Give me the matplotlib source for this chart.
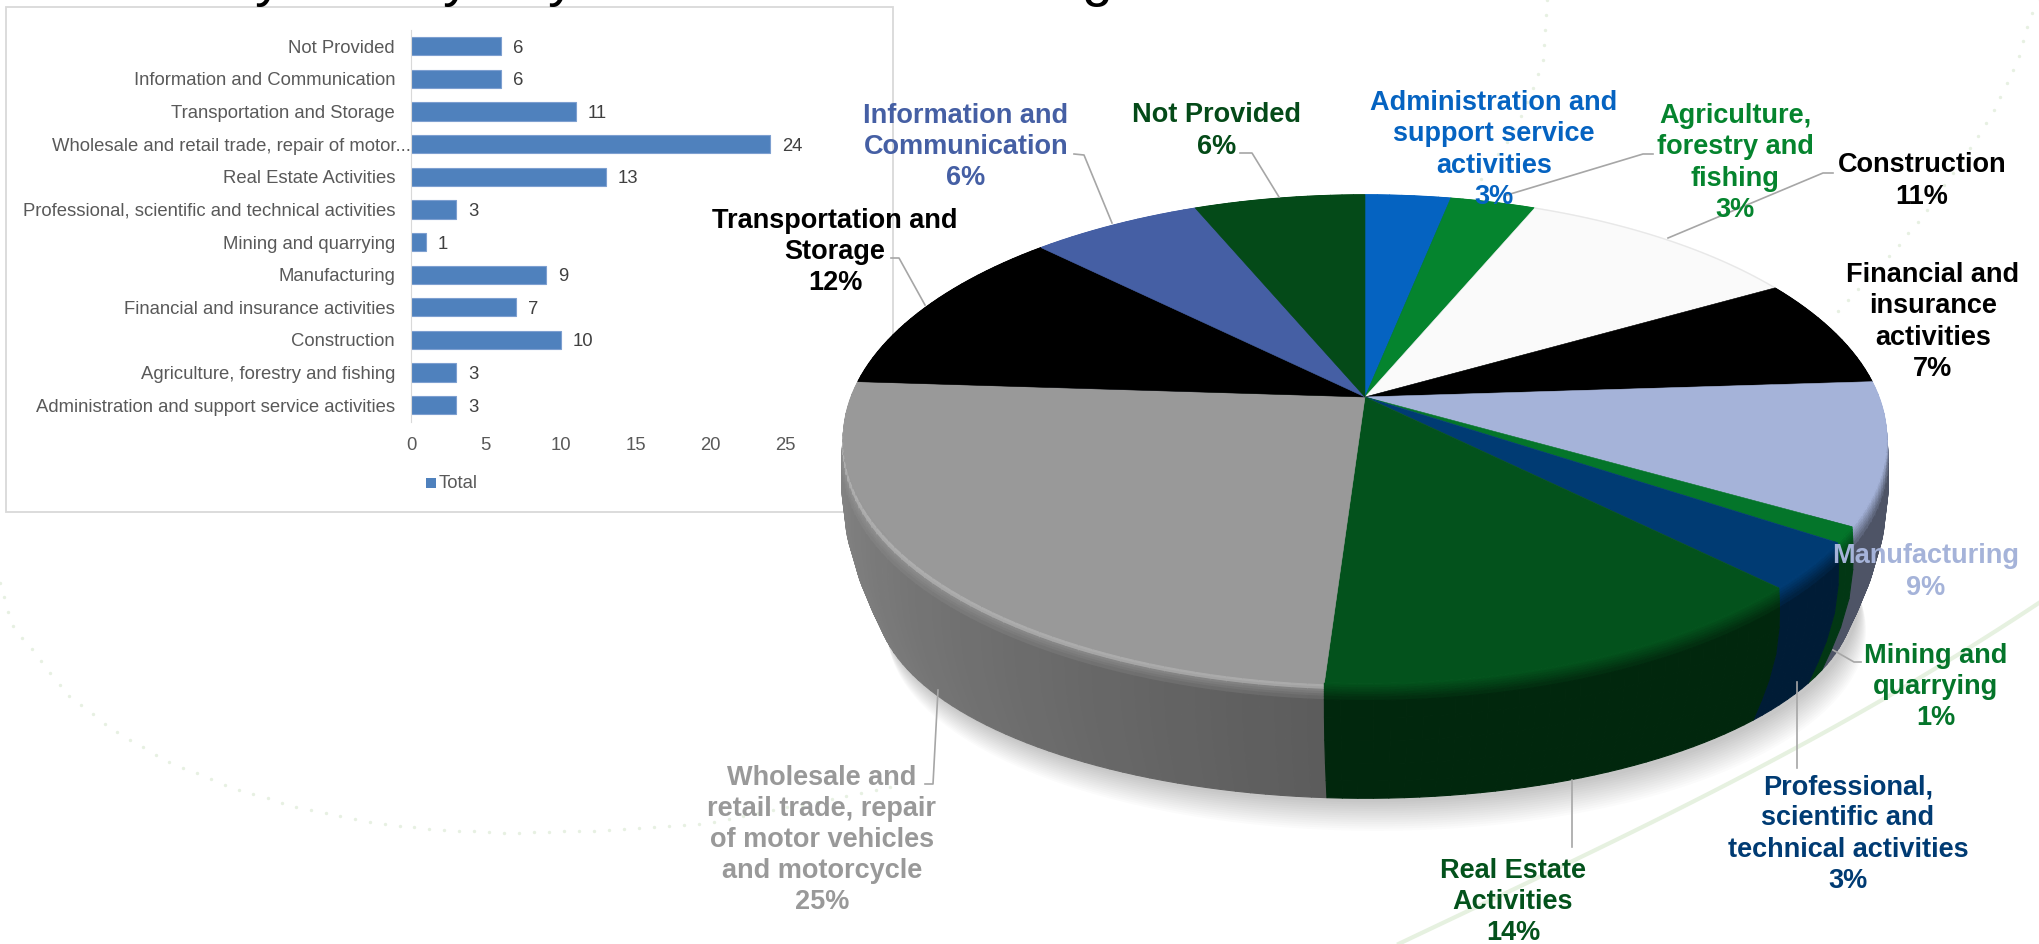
import numpy as np
import matplotlib
matplotlib.use("Agg")
import matplotlib.pyplot as plt
from matplotlib.collections import PolyCollection
from matplotlib.patches import Polygon, Rectangle

plt.rcParams['font.family'] = ['Liberation Sans', 'DejaVu Sans']

# ==========================
# Data
# ==========================
categories = [
    "Administration and support service activities",
    "Agriculture, forestry and fishing",
    "Construction",
    "Financial and insurance activities",
    "Manufacturing",
    "Mining and quarrying",
    "Professional, scientific and technical activities",
    "Real Estate Activities",
    "Wholesale and retail trade, repair of motor...",
    "Transportation and Storage",
    "Information and Communication",
    "Not Provided",
]
values = [3, 3, 10, 7, 9, 1, 3, 13, 24, 11, 6, 6]
pie_labels = [
    "Administration and\nsupport service\nactivities\n3%",
    "Agriculture,\nforestry and\nfishing\n3%",
    "Construction\n11%",
    "Financial and\ninsurance\nactivities\n7%",
    "Manufacturing\n9%",
    "Mining and\nquarrying\n1%",
    "Professional,\nscientific and\ntechnical activities\n3%",
    "Real Estate\nActivities\n14%",
    "Wholesale and\nretail trade, repair\nof motor vehicles\nand motorcycle\n25%",
    "Transportation and\nStorage\n12%",
    "Information and\nCommunication\n6%",
    "Not Provided\n6%",
]
slice_colors = ["#0563c1", "#05842e", "#fafafa", "#000000", "#a5b3d9", "#04752a",
                "#003b73", "#03521c", "#999999", "#000000", "#455fa4", "#044a18"]
label_colors = ["#0563c1", "#05842e", "#000000", "#000000", "#a5b3d9", "#04752a",
                "#003b73", "#03521c", "#999999", "#000000", "#455fa4", "#044a18"]

# ==========================
# Layout (pixels)
# ==========================
label_xy = [(1494, 150), (1735, 163), (1922, 181), (1933, 322), (1926, 572), (1936, 687),
            (1848, 834), (1513, 902), (822, 840), (835, 252), (966, 147), (1217, 131)]
leaders = [
    None,
    [(1507, 195), (1643, 154), (1653, 154)],
    [(1668, 238), (1823, 173), (1833, 173)],
    None,
    None,
    [(1833, 650), (1854, 662), (1861, 662)],
    [(1797, 682), (1797, 768)],
    [(1572, 780), (1572, 847)],
    [(938, 690), (933, 784), (925, 784)],
    [(925, 305), (899, 258), (891, 258)],
    [(1112, 223), (1084, 155), (1074, 154)],
    [(1279, 197), (1252, 153), (1240, 153)],
]
dots_left = [(0, 583), (12, 625), (34, 652), (68, 695), (109, 727), (165, 760), (230, 787),
             (300, 808), (367, 822), (440, 830), (517, 833), (610, 830), (706, 823),
             (800, 805), (900, 785)]
dots_mid = [(1547, 0), (1545, 30), (1543, 60), (1538, 75), (1520, 118), (1505, 145),
            (1480, 180)]
dots_right = [(2040, 0), (2031, 15), (2018, 59), (1992, 114), (1976, 140), (1923, 215),
              (1895, 249), (1853, 295), (1830, 320)]
curve_xy = [(1399, 944), (1416, 935), (1584, 857), (1768, 760), (1891, 697), (2038, 603)]
title_glyphs = [("y", 269), ("y", 457), ("y", 562), ("g", 1097)]

fig = plt.figure(figsize=(20.4, 9.44), dpi=100, facecolor="white")

# ==========================
# Background
# ==========================
bg = fig.add_axes([0, 0, 1, 1], zorder=0)
bg.set_xlim(0, 2040)
bg.set_ylim(944, 0)
bg.axis("off")


def dots_along(points, step=15):
    pts = np.array(points, dtype=float)
    dist = np.r_[0, np.cumsum(np.hypot(*np.diff(pts, axis=0).T))]
    s = np.arange(0, dist[-1], step)
    return np.interp(s, dist, pts[:, 0]), np.interp(s, dist, pts[:, 1])


for line in [dots_left, dots_mid, dots_right]:
    xs, ys = dots_along(line)
    bg.scatter(xs, ys, s=6, color="#e7f0e2", linewidths=0)

cx_pts, cy_pts = np.array(curve_xy).T
cfit = np.polyfit(cx_pts, cy_pts, 3)
cxs = np.linspace(1399, 2040, 100)
bg.plot(cxs, np.polyval(cfit, cxs), color="#e6f1e0", lw=3)

for ch, x in title_glyphs:
    bg.text(x, -5, ch, fontsize=40, color="black", ha="center", va="baseline")

bg.add_patch(Rectangle((6.5, 7), 886.5, 505, facecolor="white", edgecolor="#d9d9d9", lw=1.3))

# ==========================
# Bar chart
# ==========================
ax = fig.add_axes([411 / 2040, 1 - 421.5 / 944, 449 / 2040, 391.5 / 944], zorder=1)
ax.patch.set_alpha(0)
y_pos = np.arange(len(categories))
ax.barh(y_pos, values, height=0.56, color="#4f81bd", edgecolor="#7d9fd0", linewidth=0.8,
        label="Total")
for y, v in zip(y_pos, values):
    ax.annotate(str(v), (v, y), xytext=(8.6, 0), textcoords="offset points",
                va="center_baseline", fontsize=13.3, color="#404040")
ax.set_xlim(0, 30)
ax.set_ylim(-0.5, len(categories) - 0.5)
ax.set_yticks(y_pos)
ax.set_yticklabels(categories, fontsize=13.3, color="#595959")
ax.set_xticks([0, 5, 10, 15, 20, 25])
ax.tick_params(axis="x", length=0, labelsize=13.3, labelcolor="#595959", pad=11)
ax.tick_params(axis="y", length=0, pad=11.5)
ax.yaxis.get_major_ticks()[8].set_pad(0)
for side in ["top", "right", "bottom"]:
    ax.spines[side].set_visible(False)
ax.spines["left"].set_color("#d9d9d9")

bg.add_patch(Rectangle((426, 478), 10, 10, facecolor="#4f81bd", edgecolor="none"))
bg.text(439, 483, "Total", fontsize=13.3, color="#595959", va="center", ha="left")

# ==========================
# Perspective pie
# ==========================
over = fig.add_axes([0, 0, 1, 1], zorder=2)
over.set_xlim(0, 2040)
over.set_ylim(944, 0)
over.axis("off")
over.patch.set_alpha(0)

CX, K = 1365, 0.172
TOP_A, TOP_B, TOP_Y = 514, 237, 397
BOT_A, BOT_B, BOT_Y = 482, 194, 564
BULGE = 14


def rim(theta, a, b, y0):
    u, v = np.sin(theta), np.cos(theta)
    w = 1 + K * v
    return np.c_[CX + a * u / w, y0 - b * v / w]


def top_rim(theta):
    return rim(theta, TOP_A, TOP_B, TOP_Y)


def bot_rim(theta):
    return rim(theta, BOT_A, BOT_B, BOT_Y)


def side_rim(theta, q):
    # point part way down the side wall, pushed out a little so the edge looks rounded
    pts = top_rim(theta) + q * (bot_rim(theta) - top_rim(theta))
    pts[:, 0] += BULGE * np.sin(np.pi * q) * np.sin(theta)
    return pts


def side_shade(deg):
    if deg < 184:
        return 0.47
    return min(0.6 + 0.3 * (deg - 184) / 86, 0.9)


def to_rgb(color):
    return np.array(matplotlib.colors.to_rgb(color))


# soft shadow under the pie
all_t = np.linspace(0, 2 * np.pi, 360)
for i in range(14):
    shadow = bot_rim(all_t) + [4 + i * 0.6, 4 + i * 2.2]
    over.add_patch(Polygon(shadow, closed=True, facecolor="black", alpha=0.014,
                           edgecolor="none", zorder=1))

edges = np.r_[0, np.cumsum(values)] / np.sum(values) * 2 * np.pi
strips = [0, 0.02, 0.04, 0.06, 0.08, 0.1, 0.12, 0.15, 0.3, 0.5, 0.7, 0.85, 1.0]

quads, quad_colors, quad_keys = [], [], []
for i, color in enumerate(slice_colors):
    n = max(int(np.degrees(edges[i + 1] - edges[i]) / 1.5), 2)
    t = np.linspace(edges[i], edges[i + 1], n + 1)
    base = to_rgb(color)
    for j in range(n):
        deg = np.degrees(t[j:j + 2].mean())
        side = base * side_shade(deg)
        if color == "#fafafa" or color == "#000000":
            side = base * 0.5
        for q0, q1 in zip(strips[:-1], strips[1:]):
            a0, a1 = side_rim(t[j:j + 2], q0)
            b0, b1 = side_rim(t[j:j + 2], q1)
            mix = min((q0 / 0.15), 1.0)
            c = base * (1 - mix) + side * mix
            if color == "#999999" and q0 in (0.02, 0.04):
                c = c + 0.1
            quads.append([a0, a1, b1, b0])
            quad_colors.append(np.clip(c, 0, 1))
            # far side of the wall first, near side last
            quad_keys.append(-np.cos(t[j:j + 2].mean()) * 1000 + q0)

order = np.argsort(quad_keys)
over.add_collection(PolyCollection([quads[o] for o in order],
                                   facecolors=[quad_colors[o] for o in order],
                                   edgecolors=[quad_colors[o] for o in order],
                                   linewidths=0.8, zorder=2))

# top surface
for i, color in enumerate(slice_colors):
    t = np.linspace(edges[i], edges[i + 1], 80)
    pts = np.vstack([[CX, TOP_Y], top_rim(t)])
    over.add_patch(Polygon(pts, closed=True, facecolor=color, edgecolor=color, lw=0.4, zorder=3))
    if color == "#fafafa":
        over.plot(*top_rim(t).T, color="#e8e8e8", lw=1, zorder=3)

# ==========================
# Pie labels and leader lines
# ==========================
for line in leaders:
    if line is not None:
        over.plot(*zip(*line), color="#a6a6a6", lw=1.2, zorder=4)

for (x, y), text, color in zip(label_xy, pie_labels, label_colors):
    over.text(x, y, text, color=color, fontsize=19.5, fontweight="bold", ha="center",
              va="center", linespacing=1.26, zorder=5)

plt.savefig("out.png", dpi=100)
